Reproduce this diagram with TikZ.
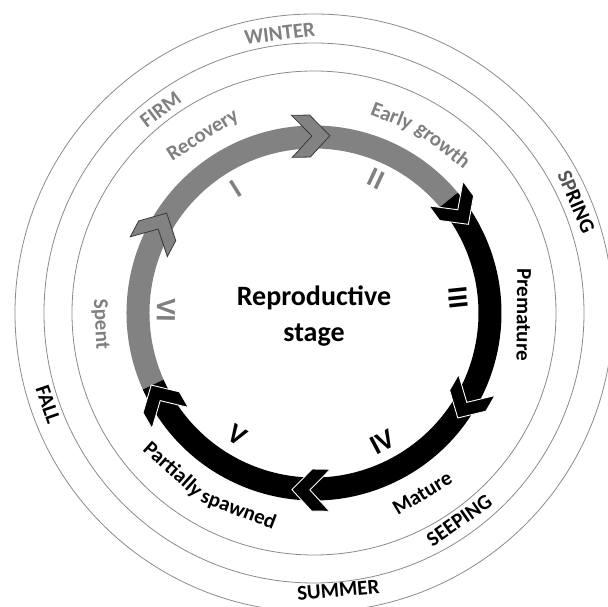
\documentclass[tikz,border=0pt]{standalone}
\usepackage{fontspec}
\setmainfont{Carlito}
\definecolor{rgray}{HTML}{828282}
\definecolor{tgray}{HTML}{808080}
\definecolor{dgray}{HTML}{3A3A3A}
\definecolor{cgray}{HTML}{8A8A8A}
\definecolor{sgray}{HTML}{555555}
\newcommand{\lblfont}{\bfseries\fontsize{21}{25}\selectfont}
\tikzset{
  chev/.pic={\path[pic actions] (-19,21) -- (-1,21) -- (19,0) -- (-1,-21) -- (-19,-21) -- (1,0) -- cycle;},
  graychev/.style={fill=rgray, draw=dgray, line width=0.8pt},
  blackchev/.style={fill=black, draw=white, line width=0.9pt},
  season/.style={draw=cgray, line width=0.8pt},
  band/.style={line width=23pt},
  numeral/.style={font=\bfseries\fontsize{28}{32}\selectfont, inner sep=0pt},
  lbl/.style={font=\lblfont, anchor=base, inner sep=0pt},
}
\begin{document}
\begin{tikzpicture}[x=1pt, y=1pt]
\useasboundingbox (-314,-294) rectangle (294,313);
\clip (-314,-294) rectangle (294,313);
% season / phase circles
\draw[season] (0,0) circle[radius=242pt];
\draw[season] (0,0) circle[radius=270pt];
\draw[season] (0,0) circle[radius=299pt];
% cycle ring
\draw[band, rgray] (40:176pt) arc[start angle=40, end angle=204, radius=176pt];
\draw[band, black] (204:176pt) arc[start angle=204, end angle=400, radius=176pt];
% chevrons (pointing clockwise)
\pic[graychev, rotate=1] at (91:177pt) {chev};
\pic[blackchev, rotate=-54] at (36:177pt) {chev};
\pic[blackchev, rotate=-120] at (-30:177pt) {chev};
\pic[blackchev, rotate=-181] at (-91:177pt) {chev};
\pic[blackchev, rotate=-240] at (-150:177pt) {chev};
\pic[graychev, rotate=62] at (152:177pt) {chev};
% centre
\node[font=\bfseries\fontsize{28}{36}\selectfont, align=center] (title) at (0,-3) {Reproductive\\stage};
% numerals
\node[numeral, text=tgray, rotate=32] (n1) at (122:147pt) {I};
\node[numeral, text=tgray, rotate=-25] (n2) at (65:148pt) {II};
\node[numeral, text=black, rotate=-84] (n3) at (6:145pt) {III};
\node[numeral, text=black, rotate=28] (n4) at (-62:146pt) {IV};
\node[numeral, text=black, rotate=-32] (n5) at (-122:144pt) {V};
\node[numeral, text=tgray, rotate=-91] (n6) at (179:148pt) {VI};
% stage labels
\node[lbl, text=tgray, rotate=32] (recovery) at (122:204pt) {Recovery};
\node[lbl, text=tgray, rotate=-21.6] (early) at (68.4:205pt) {Early};
\node[lbl, text=tgray, rotate=-37.6] (growth) at (52.4:205pt) {growth};
\node[lbl, text=black, rotate=-90.5] (premature) at (-0.5:203pt) {Premature};
\node[lbl, text=black, rotate=31] (mature) at (-59:217pt) {Mature};
\node[lbl, text=black, rotate=-42] (partially) at (-132:217pt) {Partially};
\node[lbl, text=black, rotate=-21] (spawned) at (-111:217pt) {spawned};
\node[lbl, text=tgray, rotate=-87] (spent) at (183:219pt) {Spent};
% outer labels
\node[lbl, text=tgray, rotate=37] (firm) at (127:248pt) {FIRM};
\node[lbl, text=tgray, rotate=7] (winter) at (97:275pt) {WINTER};
\node[lbl, text=black, rotate=-67] (spring) at (23:278pt) {{\color{sgray}SP}RING};
\node[lbl, text=black, rotate=35] (seeping) at (-55:260pt) {SEEPING};
\node[lbl, text=black, rotate=5] (summer) at (-85:285pt) {SUMMER};
\node[lbl, text=black, rotate=-71] (fall) at (199:288pt) {FALL};
\end{tikzpicture}
\end{document}
